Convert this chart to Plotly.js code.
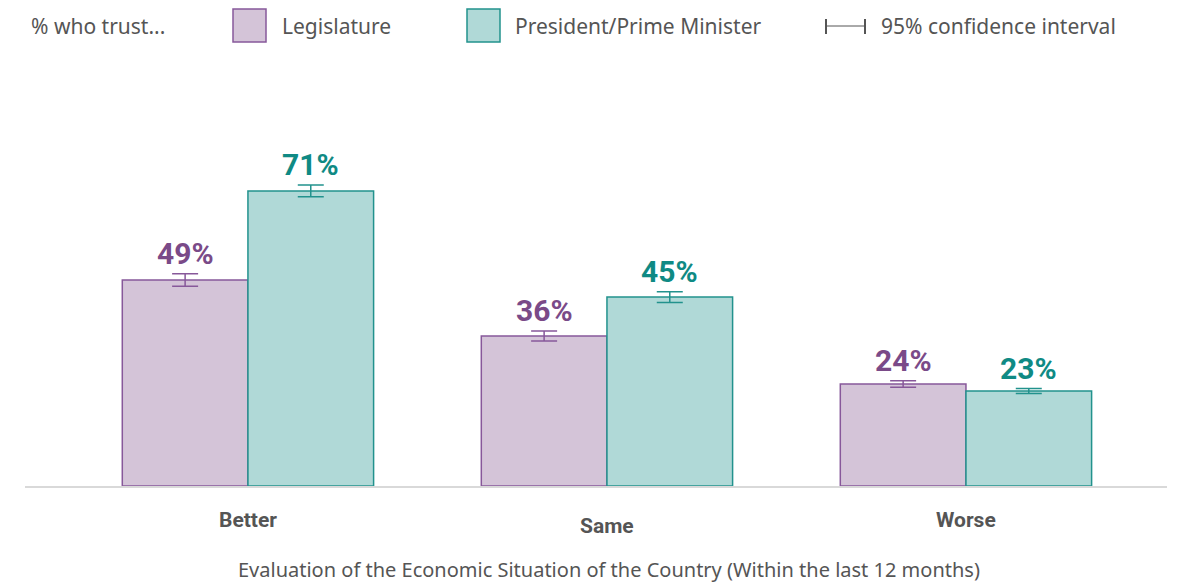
<!DOCTYPE html>
<html><head><meta charset="utf-8">
<script src="https://cdn.plot.ly/plotly-3.0.1.min.js"></script>
<style>html,body{margin:0;padding:0;background:#fff}#chart{width:1192px;height:583px}</style>
</head><body><div id="chart"></div>
<script>
const categories = ["Better", "Same", "Worse"];
const legislature = [49.3, 35.9, 24.4];
const president = [70.6, 45.2, 22.7];
const legErr = [1.5, 1.2, 0.8];
const presErr = [1.4, 1.3, 0.6];
const seriesNames = ["Legislature", "President/Prime Minister"];
const xTitle = "Evaluation of the Economic Situation of the Country (Within the last 12 months)";
const legendLead = "% who trust...";
const ciLabel = "95% confidence interval";

const L = 25, R = 25, T = 100, B = 97, Wd = 1192, Ht = 583;
const PW = Wd - L - R, PH = Ht - T - B;
const px = x => (x - L) / PW;
const py = y => (Ht - B - y) / PH;

const purpleFill = "#d4c4d8", purpleLine = "#87589a", purpleText = "#7a4a88";
const tealFill = "#b0d9d7", tealLine = "#22928d", tealText = "#0f8a84";
const gray = "#555555";
const xIdx = categories.map((c, i) => i);

const traces = [
  {type: "bar", name: seriesNames[0], x: xIdx, y: legislature,
   marker: {color: purpleFill, line: {color: purpleLine, width: 1.5}},
   error_y: {type: "data", array: legErr, visible: true, color: purpleLine, thickness: 1.5, width: 13},
   hoverinfo: "skip"},
  {type: "bar", name: seriesNames[1], x: xIdx, y: president,
   marker: {color: tealFill, line: {color: tealLine, width: 1.5}},
   error_y: {type: "data", array: presErr, visible: true, color: tealLine, thickness: 1.5, width: 13},
   hoverinfo: "skip"}
];

const annotations = [];
const off = 0.175;
const sans = "Noto Sans, sans-serif";
categories.forEach((c, i) => {
  annotations.push({x: i - off, y: legislature[i] + legErr[i], xref: "x", yref: "y",
    text: Math.round(legislature[i]) + "%", showarrow: false, yanchor: "bottom", yshift: 1,
    font: {family: "Roboto, sans-serif", size: 30, color: purpleText, weight: 700}});
  annotations.push({x: i + off, y: president[i] + presErr[i], xref: "x", yref: "y",
    text: Math.round(president[i]) + "%", showarrow: false, yanchor: "bottom", yshift: 1,
    font: {family: "Roboto, sans-serif", size: 30, color: tealText, weight: 700}});
  annotations.push({x: i, y: py(i === 1 ? 525.5 : 519.5), xref: "x", yref: "paper",
    text: "<b>" + c + "</b>", showarrow: false, yanchor: "middle",
    font: {family: "Roboto, sans-serif", size: 21, color: gray}});
});
annotations.push({x: px(609), y: py(569), xref: "paper", yref: "paper", text: xTitle,
  showarrow: false, xanchor: "center", yanchor: "middle", borderpad: 0,
  font: {family: sans, size: 20, color: gray}});
// legend texts
annotations.push({x: px(29), y: py(26), xref: "paper", yref: "paper", text: legendLead,
  showarrow: false, xanchor: "left", yanchor: "middle", font: {family: sans, size: 21, color: gray}});
annotations.push({x: px(280), y: py(26), xref: "paper", yref: "paper", text: seriesNames[0],
  showarrow: false, xanchor: "left", yanchor: "middle", font: {family: sans, size: 21, color: gray}});
annotations.push({x: px(513), y: py(26), xref: "paper", yref: "paper", text: seriesNames[1],
  showarrow: false, xanchor: "left", yanchor: "middle", font: {family: sans, size: 21, color: gray}});
annotations.push({x: px(879), y: py(26), xref: "paper", yref: "paper", text: ciLabel,
  showarrow: false, xanchor: "left", yanchor: "middle", font: {family: sans, size: 21, color: gray}});

const shapes = [
  {type: "rect", xref: "paper", yref: "paper", x0: px(233), x1: px(266), y0: py(42), y1: py(9),
   fillcolor: purpleFill, line: {color: purpleLine, width: 1.5}},
  {type: "rect", xref: "paper", yref: "paper", x0: px(467), x1: px(500), y0: py(42), y1: py(9),
   fillcolor: tealFill, line: {color: tealLine, width: 1.5}},
  {type: "line", xref: "paper", yref: "paper", x0: px(826), x1: px(826), y0: py(19), y1: py(34), line: {color: gray, width: 2}},
  {type: "line", xref: "paper", yref: "paper", x0: px(865), x1: px(865), y0: py(19), y1: py(34), line: {color: gray, width: 2}},
  {type: "line", xref: "paper", yref: "paper", x0: px(826), x1: px(865), y0: py(26), y1: py(26), line: {color: gray, width: 1}}
];

const layout = {
  width: Wd, height: Ht,
  margin: {l: L, r: R, t: T, b: B},
  paper_bgcolor: "#fff", plot_bgcolor: "#fff",
  barmode: "group", bargap: 0.3, bargroupgap: 0,
  showlegend: false,
  xaxis: {type: "linear", range: [-0.621, 2.56], showticklabels: false, ticks: "", showgrid: false, zeroline: false,
    showline: true, linecolor: "#d9d9d9", linewidth: 2, fixedrange: true},
  yaxis: {range: [0, PH / 4.18], showticklabels: false, showgrid: false, zeroline: false, showline: false, ticks: ""},
  annotations: annotations,
  shapes: shapes
};

Plotly.newPlot("chart", traces, layout, {displayModeBar: false, staticPlot: true});
</script></body></html>
